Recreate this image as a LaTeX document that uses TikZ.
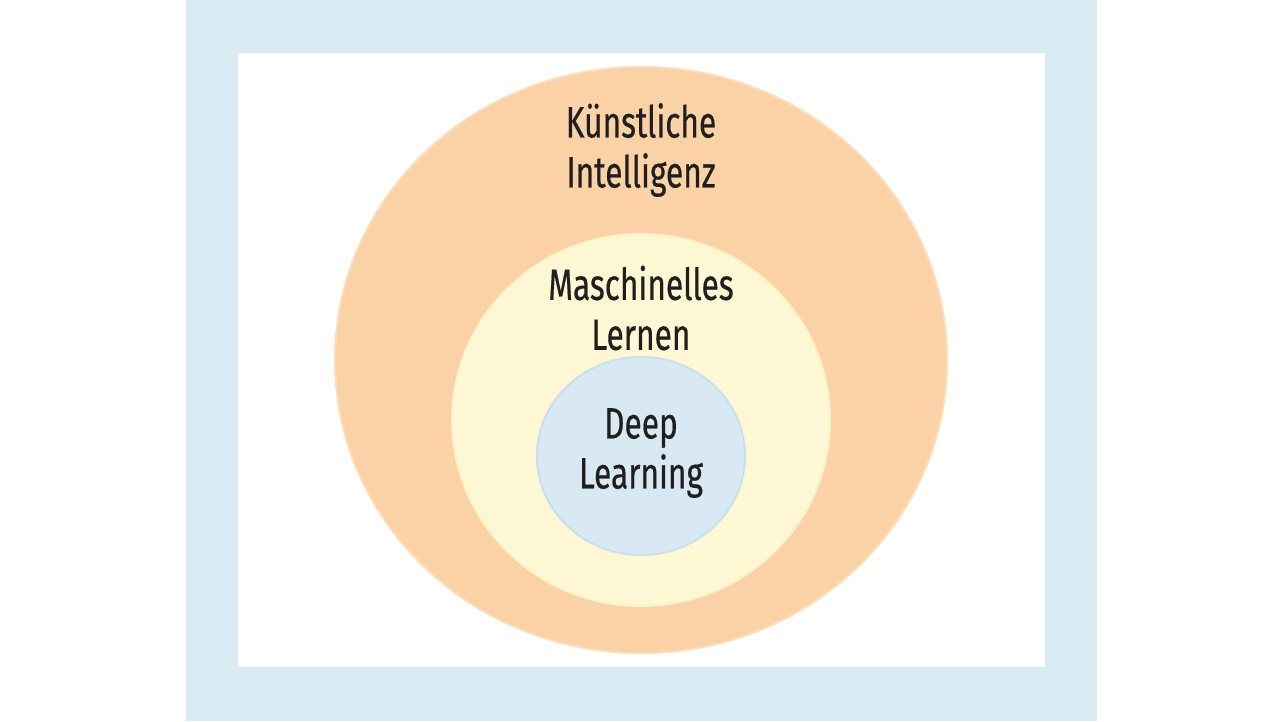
\documentclass[tikz,border=0pt]{standalone}
\usepackage{fontspec}
\setmainfont[FakeStretch=0.72, FakeBold=0.4]{Fira Sans}
\usetikzlibrary{positioning}
\definecolor{frameblue}{HTML}{D9ECF4}
\definecolor{aiorange}{HTML}{FAD2A5}
\definecolor{aiedge}{HTML}{FCDDB8}
\definecolor{mlyellow}{HTML}{FEF7D4}
\definecolor{mledge}{HTML}{FDF2C8}
\definecolor{dlblue}{HTML}{D8E9F3}
\definecolor{dledge}{HTML}{C9DFEE}
\begin{document}
\begin{tikzpicture}[x=1pt, y=-1pt, label/.style = {align=center, font=\fontsize{44}{50}\selectfont, text=black!88}]
	\tikzset{ring/.style = {line width=2pt}}
	
		\useasboundingbox (0,0) rectangle (1280,721);
		\fill[white] (0,0) rectangle (1280,721);
		\fill[frameblue] (186,0) rectangle (1097,721);
		\fill[white] (238,53) rectangle (1045,667);
		
		\draw[ring, draw=aiedge, fill=aiorange] (641,360) ellipse [x radius=306, y radius=293];
		\draw[ring, draw=mledge, fill=mlyellow] (641,420) ellipse [x radius=189, y radius=186];
		\draw[ring, draw=dledge, fill=dlblue] (641,456) ellipse [x radius=104, y radius=99];
		
		\node[label] (ki) at (641,150) {Künstliche\\Intelligenz};
		\node[label] (ml) at (641,308) {Maschinelles\\Lernen};
		\node[label] (dl) at (641,453) {Deep\\Learning};
	\end{tikzpicture}
\end{document}
